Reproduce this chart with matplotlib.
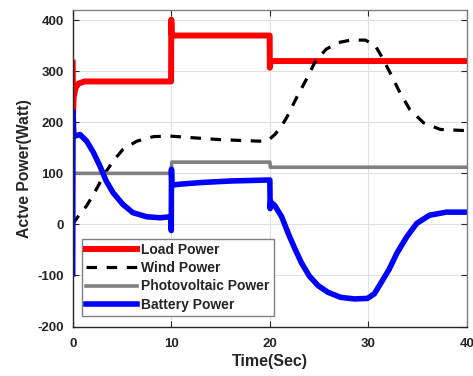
import matplotlib
matplotlib.use("Agg")
import matplotlib.pyplot as plt

plt.rcParams['font.family'] = ['Liberation Sans', 'DejaVu Sans']
plt.rcParams['font.weight'] = 'bold'
plt.rcParams['axes.unicode_minus'] = False

# ---- data ----
load_t = [0.0, 0.03, 0.1, 0.3, 0.6, 1.2, 9.98, 10.0, 10.05, 10.2, 19.98, 20.0, 20.06, 20.2, 40.0]
load_p = [317, 212, 250, 268, 276, 280, 280, 401, 372, 370, 370, 307, 318, 320, 320]

wind_t = [0.0, 0.23, 0.8, 1.4, 1.9, 2.4, 2.85, 3.3, 4.1, 5.1, 6.5, 8.2, 9.9, 12.0, 15.0, 19.0, 19.8,
          20.5, 21.1, 21.7, 22.7, 23.7, 24.55, 25.7, 26.9, 28.2, 29.7, 30.7, 31.4, 32.2, 33.2,
          34.2, 35.6, 37.3, 39.6, 40.0]
wind_p = [0, 7, 22, 36, 52, 69, 85, 101, 124, 147, 163, 172, 173, 170, 166, 163, 164,
          176, 190, 209, 248, 284, 317, 343, 356, 361, 361, 350, 327, 297, 258,
          225, 199, 186, 184, 184]

pv_t = [0.0, 10.0, 10.05, 20.0, 20.05, 40.0]
pv_p = [100, 100, 122, 122, 112, 112]

batt_t = [0.0, 0.03, 0.12, 0.23, 0.74, 1.42, 2.1, 2.77, 3.4, 4.1, 5.1, 6.1, 7.5, 8.85, 9.98,
          10.0, 10.02, 10.06, 11.0, 13.0, 16.0, 19.98, 20.0, 20.03, 20.08, 20.5, 21.2, 21.85,
          22.5, 23.2, 24.0, 24.9, 25.9, 27.2, 28.6, 29.9, 30.6, 31.2, 32.1, 32.9, 33.9, 34.9,
          36.2, 37.9, 40.0]
batt_p = [-97, 222, 172, 173, 176, 163, 141, 114, 85, 62, 39, 23, 15, 13, 15,
          -12, 108, 77, 79, 82, 85, 87, 87, 31, 44, 37, 15, -17,
          -46, -75, -101, -120, -133, -143, -146, -145, -136, -117, -88, -56, -24, 2,
          18, 24, 24]

labels = ['Load Power', 'Wind Power', 'Photovoltaic Power', 'Battery Power']
x_ticks = [0, 10, 20, 30, 40]
y_ticks = [-200, -100, 0, 100, 200, 300, 400]

fig = plt.figure(figsize=(4.73, 3.76), dpi=100)
ax = fig.add_axes([72.7/473, 1-326.5/376, (467-72.7)/473, (326.5-10)/376])

ax.plot(load_t, load_p, color='#ff0000', lw=4.3, label=labels[0])
ax.plot(wind_t, wind_p, color='black', lw=2.3, dashes=(3.3, 3.0), label=labels[1])
ax.plot(pv_t, pv_p, color='#808080', lw=2.6, label=labels[2])
ax.plot(batt_t, batt_p, color='#0000ff', lw=4.0, label=labels[3])

ax.set_xlim(0, 40)
ax.set_ylim(-200, 420)
ax.set_xticks(x_ticks)
ax.set_yticks(y_ticks)
ax.grid(True, color='#e0e0e0', lw=0.8)
ax.set_axisbelow(True)
ax.tick_params(direction='in', top=True, right=True, length=4, labelsize=9.5,
               colors='#262626', width=0.8)
ax.tick_params(axis='x', pad=8)
ax.tick_params(axis='y', pad=6.5)
for s in ['left', 'bottom']:
    ax.spines[s].set_color('#262626')
for s in ['top', 'right']:
    ax.spines[s].set_color('#808080')
for s in ax.spines.values():
    s.set_linewidth(1.0)

ax.set_xlabel('Time(Sec)', fontsize=11.5, fontweight='bold', color='#262626', labelpad=3)
ax.set_ylabel('Actve Power(Watt)', fontsize=11.3, fontweight='bold', color='#262626', labelpad=4)

leg = ax.legend(loc='lower left', bbox_to_anchor=(0.023, 0.034), borderaxespad=0,
                fontsize=10, handlelength=3.7, handletextpad=0.3, labelspacing=0.3,
                fancybox=False, framealpha=1, edgecolor='#808080', borderpad=0.3)
leg.get_frame().set_linewidth(1.0)
for t in leg.get_texts():
    t.set_color('#262626')

fig.savefig('out.png', dpi=100)
